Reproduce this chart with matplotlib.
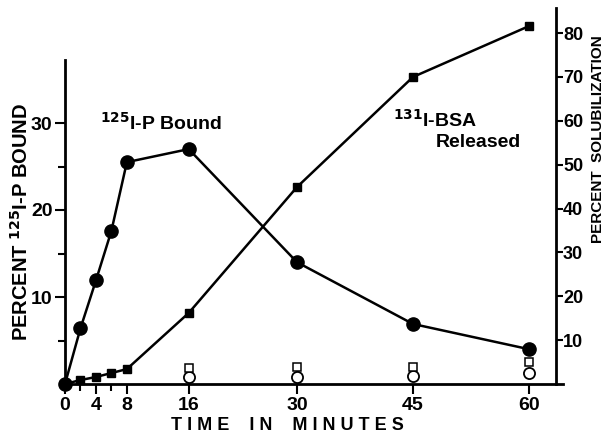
import matplotlib
matplotlib.use("Agg")
import matplotlib.pyplot as plt

# data
time_bound = [0, 2, 4, 6, 8, 16, 30, 45, 60]
pct_bound = [0, 6.4, 11.9, 17.6, 25.5, 27.0, 14.0, 6.9, 4.0]      # left axis

time_released = [0, 2, 4, 6, 8, 16, 30, 45, 60]
pct_released = [0, 0.9, 1.6, 2.5, 3.4, 16.2, 44.9, 70.0, 81.6]    # right axis

time_ctrl = [16, 30, 45, 60]
ctrl_circle = [1.6, 1.6, 1.8, 2.5]
ctrl_square = [3.6, 3.8, 3.8, 5.0]

x_ticks = [0, 4, 8, 16, 30, 45, 60]
left_ticks = [10, 20, 30]
right_ticks = [10, 20, 30, 40, 50, 60, 70, 80]

plt.rcParams['font.family'] = ['Liberation Sans', 'DejaVu Sans']
plt.rcParams['font.weight'] = 'bold'

fig = plt.figure(figsize=(6.05, 4.37), dpi=100)
ax = fig.add_axes([65 / 605, 53 / 437, 498 / 605, 376 / 437])
ax2 = ax.twinx()

ax.plot(time_bound, pct_bound, color='black', lw=1.8, marker='o', ms=9.5,
        clip_on=False, zorder=3)
ax2.plot(time_released, pct_released, color='black', lw=1.8, marker='s',
         ms=5.5, clip_on=False, zorder=3)
ax2.plot(time_ctrl, ctrl_circle, ls='none', marker='o', ms=8, mfc='white',
         mec='black', mew=1.3, clip_on=False)
ax2.plot(time_ctrl, ctrl_square, ls='none', marker='s', ms=5.5, mfc='white',
         mec='black', mew=1.1, clip_on=False)

ax.set_xlim(0, 64.4)
ax.set_ylim(0, 376 / 8.7)
ax2.set_ylim(0, 376 / 4.386)

for a in (ax, ax2):
    a.spines['top'].set_visible(False)
ax.spines['right'].set_visible(False)
ax2.spines['left'].set_visible(False)
ax2.spines['bottom'].set_visible(False)
ax.spines['left'].set_bounds(0, 37.2)
ax2.spines['right'].set_position(('data', 63.5))
for a in (ax, ax2):
    for s in a.spines.values():
        s.set_linewidth(2)

ax.set_xticks(x_ticks)
ax.set_xticks([2, 6], minor=True)
ax.set_yticks(left_ticks)
ax.set_yticks([5, 15, 25], minor=True)
ax2.set_yticks(right_ticks)
ax.tick_params(axis='both', which='major', length=7, width=1.5, labelsize=14, pad=2)
ax.tick_params(axis='both', which='minor', length=5, width=1.5)
ax2.tick_params(axis='y', length=5, width=1.5, labelsize=13, pad=0)
for lab in ax.get_xticklabels() + ax.get_yticklabels() + ax2.get_yticklabels():
    lab.set_fontweight('bold')

ax.set_xlabel('T I M E    I N    M I N U T E S', fontsize=13, fontweight='bold')
ax.xaxis.set_label_coords(0.446, -0.088)
ax.set_ylabel('PERCENT $^{125}$I-P BOUND', fontsize=14.5, fontweight='bold')
ax.yaxis.set_label_coords(-0.066, 0.43)
ax2.set_ylabel('PERCENT  SOLUBILIZATION', fontsize=11, fontweight='bold')
ax2.yaxis.set_label_coords(1.056, 0.65)

ax.text(4.5, 29.2, '$^{125}$I-P Bound', fontsize=14, fontweight='bold')
ax2.text(42.4, 58.6, '$^{131}$I-BSA', fontsize=14, fontweight='bold')
ax2.text(47.9, 54.0, 'Released', fontsize=14, fontweight='bold')

fig.savefig('out.png', dpi=100)
